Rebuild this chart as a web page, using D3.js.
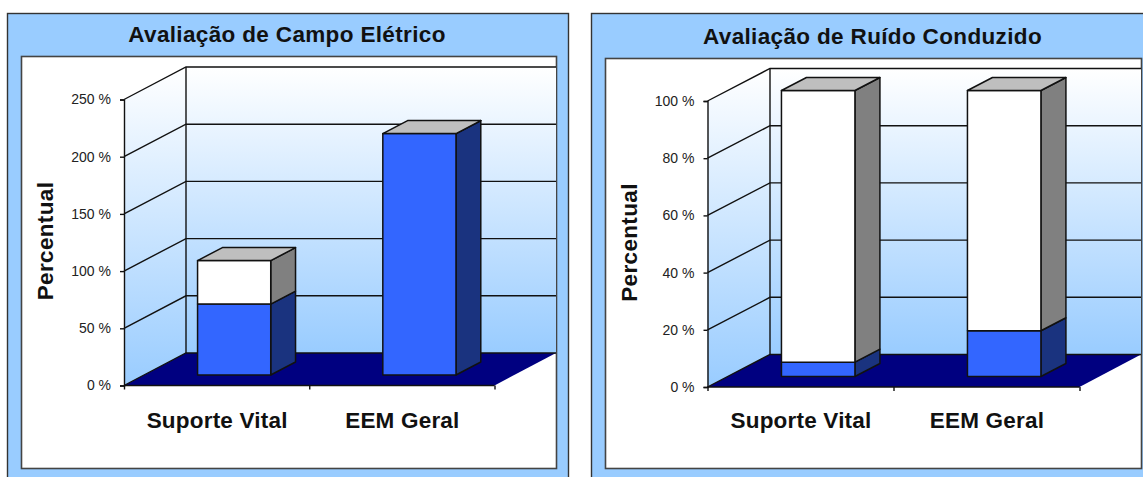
<!DOCTYPE html>
<html lang="pt">
<head>
<meta charset="utf-8">
<title>Avaliação de Campo Elétrico e Ruído Conduzido</title>
<script src="https://cdn.jsdelivr.net/npm/d3@7"></script>
<style>
  html, body { margin: 0; padding: 0; background: #fff; }
  svg { display: block; }
  text { font-family: "Liberation Sans", Arial, sans-serif; fill: #111; }
</style>
</head>
<body>
<svg id="chart" width="1143" height="477"></svg>
<script>
// Values for both charts, in percent
const categories = ["Suporte Vital", "EEM Geral"];
const campoBase = [62, 211];
const campoTopo = [38, 0];
const campoTicks = [0, 50, 100, 150, 200, 250];
const ruidoBase = [5, 16];
const ruidoTopo = [95, 84];
const ruidoTicks = [0, 20, 40, 60, 80, 100];

const PANEL_BLUE = "#99ccff", BASE_FRONT = "#3366ff", BASE_SIDE = "#1a337f",
      TOPO_FRONT = "#ffffff", TOPO_SIDE = "#808080", TOPO_CAP = "#bfbfbf",
      FLOOR = "#000080", LINE = "#111111";

const svg = d3.select("#chart");

// Shared vertical fade of the chart walls
const grad = svg.append("defs").append("linearGradient")
  .attr("id", "wall").attr("x1", 0).attr("y1", 0).attr("x2", 0).attr("y2", 1);
grad.append("stop").attr("offset", 0).attr("stop-color", "#ffffff");
grad.append("stop").attr("offset", 1).attr("stop-color", PANEL_BLUE);

const pts = a => a.map(p => p.join(",")).join(" ");

function drawPanel(cfg) {
  const g = svg.append("g");
  const { outer, inner, x0, x1, y0, yTop, dx, dy, right } = cfg;

  g.append("rect").attr("x", outer[0]).attr("y", outer[1])
    .attr("width", outer[2] - outer[0]).attr("height", outer[3] - outer[1])
    .attr("fill", PANEL_BLUE).attr("stroke", "#333").attr("stroke-width", 1.4);
  g.append("rect").attr("x", inner[0]).attr("y", inner[1])
    .attr("width", inner[2] - inner[0]).attr("height", inner[3] - inner[1])
    .attr("fill", "#fff").attr("stroke", "#444").attr("stroke-width", 1.6);

  const y = d3.scaleLinear().domain(d3.extent(cfg.ticks)).range([y0, yTop]);
  const x = d3.scaleBand().domain(categories).range([x0, x1]);

  // Walls and floor of the 3D box
  g.append("rect").attr("x", x0 + dx).attr("y", yTop - dy)
    .attr("width", right - x0 - dx).attr("height", y0 - yTop)
    .attr("fill", "url(#wall)");
  g.append("polygon")
    .attr("points", pts([[x0, yTop], [x0 + dx, yTop - dy], [x0 + dx, y0 - dy], [x0, y0]]))
    .attr("fill", "url(#wall)");
  g.append("polygon")
    .attr("points", pts([[x0, y0], [x0 + dx, y0 - dy], [right, y0 - dy], [x1, y0]]))
    .attr("fill", FLOOR);

  // Gridlines run along the left wall, then across the back wall
  cfg.ticks.forEach(t => {
    const yy = y(t);
    g.append("polyline")
      .attr("points", pts([[x0, yy], [x0 + dx, yy - dy], [right, yy - dy]]))
      .attr("fill", "none").attr("stroke", LINE).attr("stroke-width", 1.4);
  });
  g.append("line").attr("x1", x0 + dx).attr("x2", x0 + dx)
    .attr("y1", yTop - dy).attr("y2", y0 - dy)
    .attr("stroke", LINE).attr("stroke-width", 1.4);

  // Stacked columns sit partway into the depth of the floor
  const near = 0.323, far = 0.723;
  const barW = x.bandwidth() * 0.395;
  const barInset = (x.bandwidth() - barW) / 2 - 2.5;
  const segment = (cat, from, to, front, side, cap) => {
    const l = x(cat) + barInset + near * dx, r = l + barW;
    const top = y(to) - near * dy, bot = y(from) - near * dy;
    const sx = (far - near) * dx, sy = (far - near) * dy;
    const seg = g.append("g").attr("stroke", LINE).attr("stroke-width", 1.5)
      .attr("stroke-linejoin", "round");
    seg.append("polygon")
      .attr("points", pts([[r, top], [r + sx, top - sy], [r + sx, bot - sy], [r, bot]]))
      .attr("fill", side);
    seg.append("rect").attr("x", l).attr("y", top)
      .attr("width", barW).attr("height", bot - top).attr("fill", front);
    if (cap) {
      seg.append("polygon")
        .attr("points", pts([[l, top], [l + sx, top - sy], [r + sx, top - sy], [r, top]]))
        .attr("fill", cap);
    }
  };
  categories.forEach((c, i) => {
    const b = cfg.base[i], t = cfg.topo[i];
    segment(c, 0, b, BASE_FRONT, BASE_SIDE, null);
    segment(c, b, b + t, TOPO_FRONT, TOPO_SIDE, TOPO_CAP);
  });

  // Value axis on the front edge of the left wall
  const yAxis = d3.axisLeft(y).tickValues(cfg.ticks).tickSize(4).tickPadding(9)
    .tickFormat(d => d + " %");
  const ya = g.append("g").attr("transform", `translate(${x0},0)`).call(yAxis);
  ya.selectAll("path, line").attr("stroke", LINE).attr("stroke-width", 1.4);
  ya.selectAll("text").attr("font-size", 14).style("fill", "#222");

  // Category axis: ticks fall on the band boundaries
  const xAxis = d3.axisBottom(d3.scaleLinear().domain([0, categories.length]).range([x0, x1]))
    .ticks(categories.length).tickSize(4).tickFormat("");
  const xa = g.append("g").attr("transform", `translate(0,${y0})`).call(xAxis);
  xa.selectAll("path, line").attr("stroke", LINE).attr("stroke-width", 1.4);
  xa.select("path").attr("d", `M${x0},0H${x1}`);

  const boldText = (s, size, spacing) => g.append("text").text(s)
    .attr("font-size", size).attr("font-weight", "bold")
    .attr("letter-spacing", spacing).attr("text-anchor", "middle");

  categories.forEach(c => {
    boldText(c, 22.5, 0.2).attr("x", x(c) + x.bandwidth() / 2 + 0.5).attr("y", 428);
  });
  boldText(cfg.title, 22.5, cfg.titleSpacing).attr("x", cfg.titleX).attr("y", cfg.titleY);
  boldText("Percentual", 22.5, 0.35)
    .attr("transform", `translate(${cfg.labelX},${cfg.labelY}) rotate(-90)`);
}

drawPanel({
  title: "Avaliação de Campo Elétrico", titleX: 287, titleY: 42, titleSpacing: 0.35,
  labelX: 52.5, labelY: 241,
  outer: [7.5, 13.5, 568.5, 490], inner: [21.5, 56.5, 556.5, 468.5],
  x0: 124, x1: 494.5, y0: 385.5, yTop: 99.5, dx: 62, dy: 32.5, right: 556,
  ticks: campoTicks, base: campoBase, topo: campoTopo
});

drawPanel({
  title: "Avaliação de Ruído Conduzido", titleX: 872.5, titleY: 43.5, titleSpacing: 0.35,
  labelX: 636.5, labelY: 242.5,
  outer: [591.5, 13.5, 1160, 490], inner: [605.5, 58.5, 1141.5, 468.5],
  x0: 707.5, x1: 1079.5, y0: 387, yTop: 101, dx: 62.5, dy: 32.5, right: 1141,
  ticks: ruidoTicks, base: ruidoBase, topo: ruidoTopo
});
</script>
</body>
</html>
